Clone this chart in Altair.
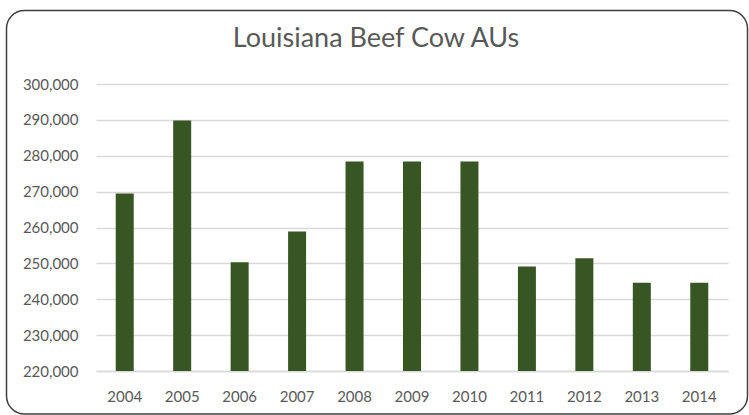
import altair as alt
import pandas as pd

# Louisiana beef cow animal units by year
years = ["2004", "2005", "2006", "2007", "2008", "2009", "2010", "2011", "2012", "2013", "2014"]
cow_aus = [269500, 289800, 250300, 258900, 278400, 278400, 278400, 249100, 251400, 244600, 244600]

y_ticks = [220000, 230000, 240000, 250000, 260000, 270000, 280000, 290000, 300000]

df = pd.DataFrame({"year": years, "aus": cow_aus})

FONT = "Lato"
TEXT_COLOR = "#595959"
GRID_COLOR = "#d9d9d9"
BAR_COLOR = "#375623"

PLOT_W = 632
PLOT_H = 287
PAD_LEFT = 96
PAD_TOP = 84

bars = alt.Chart(df).mark_bar(size=18, color=BAR_COLOR).encode(
    x=alt.X(
        "year:N",
        sort=years,
        title=None,
        scale=alt.Scale(paddingInner=0, paddingOuter=0),
        axis=alt.Axis(
            labelAngle=0,
            ticks=False,
            tickSize=0,
            labelPadding=18,
            labelFont=FONT,
            labelFontSize=15,
            labelColor=TEXT_COLOR,
            domainColor=GRID_COLOR,
            domainWidth=1.5,
            grid=False,
        ),
    ),
    y=alt.Y(
        "aus:Q",
        title=None,
        scale=alt.Scale(domain=[220000, 300000], zero=False, nice=False),
        axis=alt.Axis(
            values=y_ticks,
            format=",.0f",
            ticks=False,
            tickSize=0,
            domain=False,
            labelPadding=18,
            labelFont=FONT,
            labelFontSize=15,
            labelColor=TEXT_COLOR,
            gridColor=GRID_COLOR,
            gridWidth=1.5,
        ),
    ),
    y2=alt.datum(220000),
)

# Rounded frame around the whole chart area
frame = alt.Chart(alt.Data(values=[{"f": 1}])).mark_rect(
    fill=None,
    stroke="#3f3f3f",
    strokeWidth=1.5,
    cornerRadius=18,
    clip=False,
).encode(
    x=alt.value(6.5 - PAD_LEFT),
    x2=alt.value(747.5 - PAD_LEFT),
    y=alt.value(10.5 - PAD_TOP),
    y2=alt.value(414 - PAD_TOP),
)

chart = (
    alt.layer(frame, bars)
    .properties(
        width=PLOT_W,
        height=PLOT_H,
        title=alt.TitleParams(
            "Louisiana Beef Cow AUs",
            font=FONT,
            fontSize=27,
            fontWeight="normal",
            color=TEXT_COLOR,
            anchor="middle",
            frame="group",
            baseline="alphabetic",
            offset=0,
            dy=64,
            dx=-36,
        ),
        autosize=alt.AutoSizeParams(type="none"),
        padding={"left": PAD_LEFT, "top": PAD_TOP, "right": 749 - PAD_LEFT - PLOT_W, "bottom": 415 - PAD_TOP - PLOT_H},
        background="white",
    )
    .configure_view(stroke=None)
)

chart.save("out.html", embed_options={"renderer": "svg", "actions": False})
